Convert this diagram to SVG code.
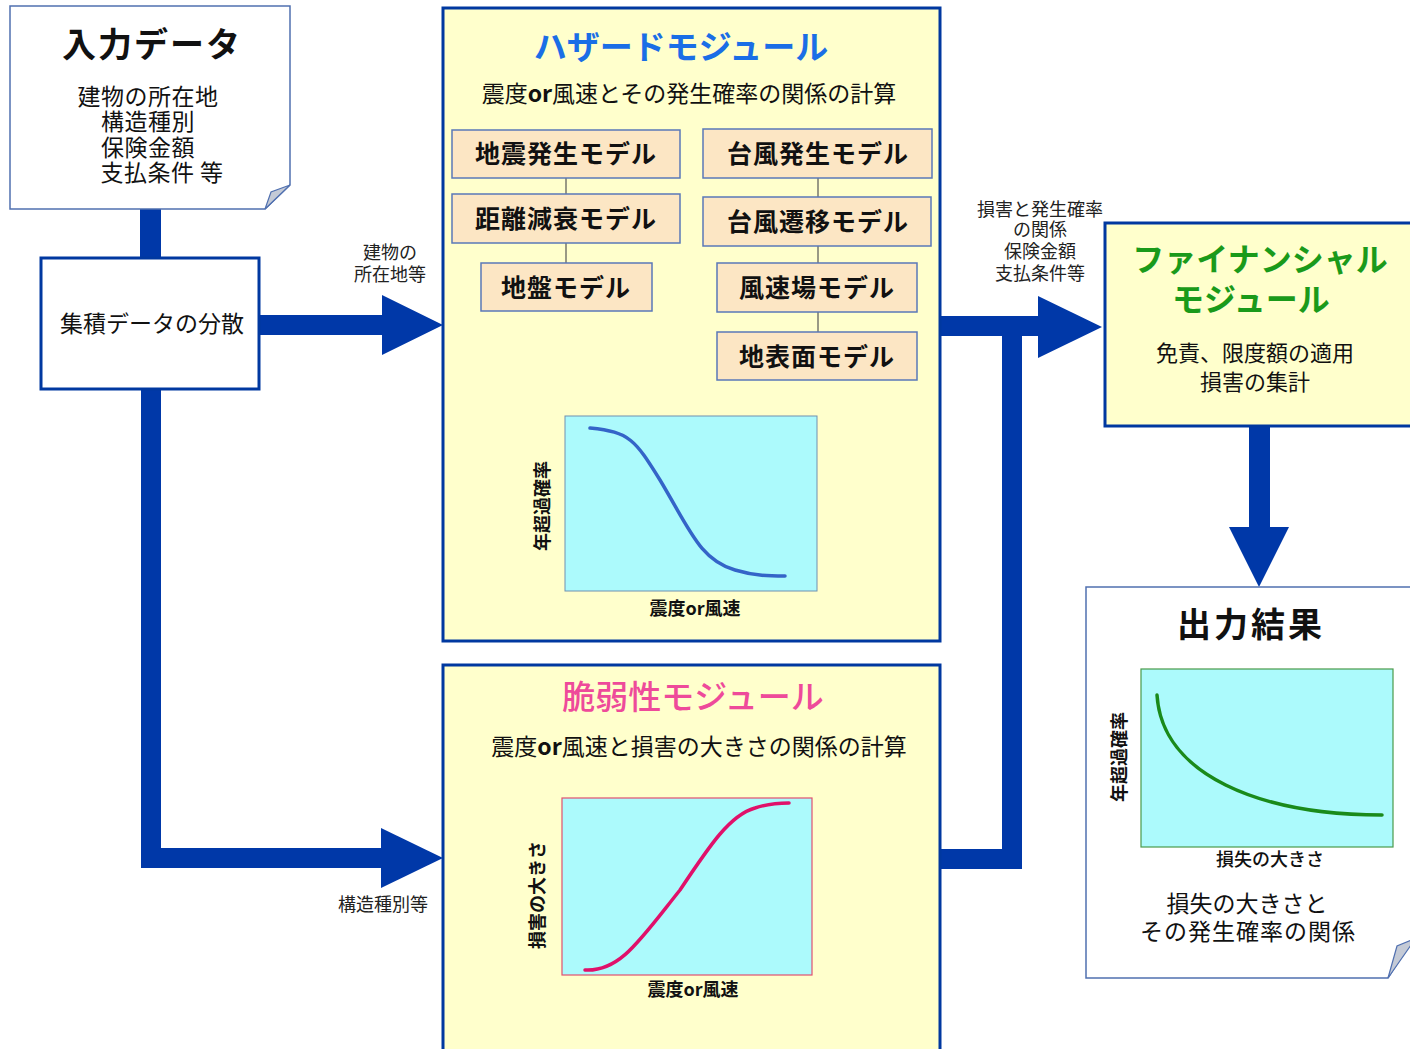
<svg xmlns="http://www.w3.org/2000/svg" width="1410" height="1049" viewBox="0 0 1410 1049">
<style>
text{font-family:"Noto Sans CJK JP","Noto Sans",sans-serif;fill:#111;text-anchor:middle;}
.b{font-weight:bold;}
.doc{fill:#fff;stroke:#5070b0;stroke-width:1.5;}
.fold{fill:#c4cad6;stroke:#5070b0;stroke-width:1.2;}
.mod{fill:#ffffcc;stroke:#0038a0;stroke-width:3;}
.sub{fill:#fce6c4;stroke:#5a78b8;stroke-width:1.5;}
.subt{font-size:25px;font-weight:bold;letter-spacing:1px;}
.chart{fill:#acfafc;}
.ax{font-size:18px;font-weight:bold;}
.lbl{font-size:18px;fill:#222;}
.arr{fill:#0038a8;}
.bar{fill:none;stroke:#0038a8;stroke-width:20;stroke-linejoin:miter;}
.tie{stroke:#555;stroke-width:1.2;}
</style>

<g id="connectors">
  <rect class="arr" x="140" y="209" width="21" height="50"/>
  <path class="arr" d="M259,315 H382 V295 L443,325 L382,355 V335 H259 Z"/>
  <path class="bar" d="M151,389 V858 H385"/>
  <polygon class="arr" points="381,828 443,858 381,888"/>
  <path class="bar" d="M940,859 H1012 V326"/>
  <path class="bar" d="M940,326 H1040"/>
  <polygon class="arr" points="1038,296 1102,327 1038,358"/>
  <rect class="arr" x="1249" y="426" width="21" height="102"/>
  <polygon class="arr" points="1229,527 1289,527 1259,587"/>
  <text class="lbl" x="390" y="259">建物の<tspan x="390" dy="22">所在地等</tspan></text>
  <text class="lbl" x="383" y="911">構造種別等</text>
  <text class="lbl" x="1040" y="216">損害と発生確率<tspan x="1040" dy="20">の関係</tspan><tspan x="1040" dy="22">保険金額</tspan><tspan x="1040" dy="22">支払条件等</tspan></text>
</g>

<g id="input-data">
  <path class="doc" d="M10,6 H290 V185 L265,209 H10 Z"/>
  <polygon class="fold" points="290,185 265,209 271,192"/>
  <text class="b" x="152" y="57" font-size="34" letter-spacing="2">入力データ</text>
  <text x="148" y="105" font-size="23" letter-spacing="0.5">建物の所在地<tspan x="148" dy="25">構造種別</tspan><tspan x="148" dy="26">保険金額</tspan><tspan x="162" dy="25">支払条件 等</tspan></text>
</g>

<g id="aggregate">
  <rect x="41" y="258" width="218" height="131" fill="#fff" stroke="#0038a0" stroke-width="3"/>
  <text x="152" y="332" font-size="23">集積データの分散</text>
</g>

<g id="hazard-module">
  <rect class="mod" x="443" y="8" width="497" height="633"/>
  <text class="b" x="681" y="59" font-size="33" style="fill:#1a6ee6">ハザードモジュール</text>
  <text x="689" y="102" font-size="23">震度<tspan font-weight="bold">or</tspan>風速とその発生確率の関係の計算</text>
  <line class="tie" x1="566" y1="177" x2="566" y2="263"/>
  <line class="tie" x1="818" y1="177" x2="818" y2="332"/>
  <g id="quake-gen"><rect class="sub" x="452" y="130" width="228" height="48"/><text class="subt" x="566" y="163">地震発生モデル</text></g>
  <g id="typhoon-gen"><rect class="sub" x="703" y="129" width="229" height="49"/><text class="subt" x="818" y="163">台風発生モデル</text></g>
  <g id="attenuation"><rect class="sub" x="452" y="194" width="228" height="49"/><text class="subt" x="566" y="228">距離減衰モデル</text></g>
  <g id="typhoon-track"><rect class="sub" x="703" y="197" width="228" height="49"/><text class="subt" x="818" y="231">台風遷移モデル</text></g>
  <g id="ground"><rect class="sub" x="481" y="263" width="171" height="48"/><text class="subt" x="566" y="297">地盤モデル</text></g>
  <g id="wind-field"><rect class="sub" x="717" y="263" width="200" height="49"/><text class="subt" x="817" y="297">風速場モデル</text></g>
  <g id="surface"><rect class="sub" x="717" y="332" width="200" height="48"/><text class="subt" x="817" y="366">地表面モデル</text></g>
  <rect class="chart" x="565" y="416" width="252" height="175" stroke="#7090b0" stroke-width="1"/>
  <path d="M590,428 C630,432 635,440 660,480 C690,530 700,560 735,570 C755,576 770,576 785,576" fill="none" stroke="#3464c8" stroke-width="3.5" stroke-linecap="round"/>
  <text class="ax" transform="translate(549,506) rotate(-90)">年超過確率</text>
  <text class="ax" x="695" y="615">震度or風速</text>
</g>

<g id="vulnerability-module">
  <rect class="mod" x="443" y="665" width="497" height="400"/>
  <text x="693" y="709" font-size="33" font-weight="500" style="fill:#ee4a9a">脆弱性モジュール</text>
  <text x="699" y="755" font-size="23">震度<tspan font-weight="bold">or</tspan>風速と損害の大きさの関係の計算</text>
  <rect class="chart" x="562" y="798" width="250" height="177" stroke="#e05070" stroke-width="1.2"/>
  <path d="M585,970 C620,972 640,940 680,890 C710,845 730,815 755,808 C770,803 780,803 789,803" fill="none" stroke="#e0106a" stroke-width="3.5" stroke-linecap="round"/>
  <text class="ax" transform="translate(544,895) rotate(-90)">損害の大きさ</text>
  <text class="ax" x="693" y="996">震度or風速</text>
</g>

<g id="financial-module">
  <rect class="mod" x="1105" y="223" width="320" height="203"/>
  <text class="b" x="1260" y="271" font-size="32" style="fill:#1a9a1a">ファイナンシャル<tspan x="1251" dy="40">モジュール</tspan></text>
  <text x="1255" y="361" font-size="22">免責、限度額の適用<tspan x="1255" dy="29">損害の集計</tspan></text>
</g>

<g id="output">
  <path class="doc" d="M1086,587 H1420 V928 L1388,978 H1086 Z"/>
  <polygon class="fold" points="1388,978 1397,946 1416,938"/>
  <text class="b" x="1251" y="637" font-size="34" letter-spacing="3">出力結果</text>
  <rect class="chart" x="1141" y="669" width="252" height="178" stroke="#4a9a4a" stroke-width="1.2"/>
  <path d="M1157,695 C1162,775 1260,815 1382,815" fill="none" stroke="#1a8a1a" stroke-width="3.5" stroke-linecap="round"/>
  <text class="ax" transform="translate(1126,757) rotate(-90)">年超過確率</text>
  <text class="ax" x="1270" y="866" style="font-weight:500">損失の大きさ</text>
  <text x="1247" y="912" font-size="23">損失の大きさと<tspan x="1248" dy="28" letter-spacing="1">その発生確率の関係</tspan></text>
</g>
</svg>
